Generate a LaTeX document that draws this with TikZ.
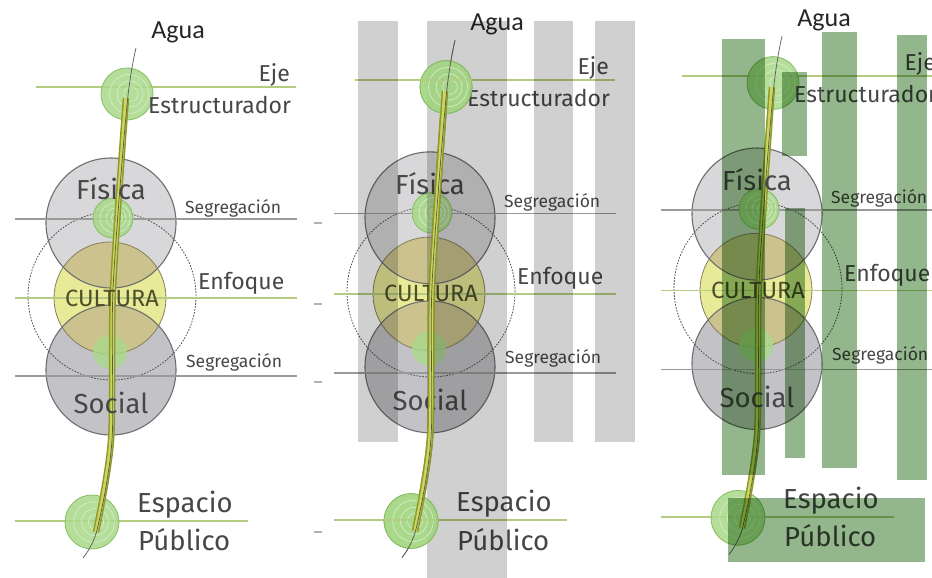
\documentclass[tikz,border=0pt]{standalone}
\usepackage{fontspec}
\setmainfont{Fira Sans}
\newfontfamily\aguafont{Carlito}
\definecolor{txt}{HTML}{474747}
\definecolor{fis}{HTML}{D8D8DA}
\definecolor{soc}{HTML}{C3C3C7}
\definecolor{cul}{HTML}{E8EA98}
\definecolor{tanov}{HTML}{CCC28E}
\definecolor{rimc}{HTML}{6E6E6E}
\definecolor{lgreen}{HTML}{A9D98A}
\definecolor{gedge}{HTML}{86BE60}
\definecolor{gline}{HTML}{B3CC80}
\definecolor{grayline}{HTML}{9A9A9A}
\definecolor{bandout}{HTML}{8C9A2C}
\definecolor{bandin}{HTML}{CDD65A}
\definecolor{graybar}{HTML}{D0D0D0}
\definecolor{greenbar}{HTML}{94B68C}
\definecolor{culttxt}{HTML}{4E4E2A}
\tikzset{
  lbl/.style={text=txt, inner sep=0pt, font=\fontsize{23}{23}\selectfont},
  bigl/.style={text=txt, inner sep=0pt, font=\fontsize{27.5}{27.5}\selectfont},
  smalll/.style={text=txt, inner sep=0pt, font=\fontsize{17.5}{17.5}\selectfont},
  aguast/.style={text=black!85, inner sep=0pt, font=\aguafont\fontsize{26}{26}\selectfont},
  cultst/.style={text=culttxt, inner sep=0pt, font=\fontsize{23.5}{23.5}\selectfont},
  greenh/.style={gline, line width=1.4pt},
  grayh/.style={grayline, line width=1.1pt},
  rim/.style={rimc, line width=1.1pt},
  dashc/.style={black!70, line width=.8pt, dash pattern=on 1.6pt off 1.4pt},
  ringst/.style={white!55!lgreen, line width=.6pt},
}
\newcommand\greenring[3]{%
  \fill[lgreen, opacity=.85] (#1,#2) circle[radius=#3pt];
  \draw[ringst] (#1+2,#2) circle[radius=#3*0.75pt];
  \draw[ringst] (#1+3,#2) circle[radius=#3*0.5pt];
  \draw[ringst] (#1+4,#2) circle[radius=#3*0.28pt];
  \draw[gedge, line width=.8pt] (#1,#2) circle[radius=#3pt];
}
\newcommand\waterline{%
  \draw[bandout, line width=6.5pt] plot[smooth, tension=.5] coordinates {(126,98) (113,290) (111,440) (96,532)};
  \draw[bandin, line width=3.5pt] plot[smooth, tension=.5] coordinates {(126,98) (113,290) (111,440) (96,532)};
  \draw[black!65, line width=.7pt] plot[smooth, tension=.5] coordinates {(136,48) (127,105) (113,290) (112,440) (97,530) (83,558)};
}
\newcommand\drawpanel[1]{%
  % gray and yellow circles
  \fill[fis] (111,223) circle[radius=65pt];
  \fill[soc] (111,370) circle[radius=65pt];
  \fill[cul] (110,298) circle[radius=56pt];
  \begin{scope}
    \clip (110,298) circle[radius=56pt];
    \fill[tanov] (111,223) circle[radius=65pt];
    \fill[tanov] (111,370) circle[radius=65pt];
  \end{scope}
  \draw[black!35!tanov, line width=.8pt] (110,298) circle[radius=56pt];
  \draw[rim] (111,223) circle[radius=65pt];
  \draw[rim] (111,370) circle[radius=65pt];
  \draw[dashc] (112,296) circle[radius=84pt];
  % horizontal lines
  \draw[greenh] (36,87) -- (296,87);
  \draw[grayh] (15,219) -- (297,219);
  \draw[greenh] (15,298) -- (297,298);
  \draw[grayh] (15,376) -- (297,376);
  \draw[greenh] (15,521) -- (248,521);
  % green circles
  \greenring{127}{94}{26}
  \greenring{113}{218}{20}
  \fill[lgreen, opacity=.8] (110,352) circle[radius=17pt];
  \greenring{92}{522}{27}
  % water
  \waterline
  % texts
  \node[aguast] (agua#1) at (178,32) {Agua};
  \node[lbl, anchor=east] (eje#1) at (290,75) {Eje};
  \node[lbl, anchor=west] (estr#1) at (148,105) {Estructurador};
  \node[bigl] (fis#1) at (111,189) {Física};
  \node[smalll, anchor=west] (segA#1) at (185,208) {Segregación};
  \node[lbl, anchor=west] (enf#1) at (198,283) {Enfoque};
  \node[cultst] (cult#1) at (112,298) {CULTURA};
  \node[smalll, anchor=west] (segB#1) at (186,362) {Segregación};
  \node[bigl] (soc#1) at (111,403) {Social};
  \node[bigl, anchor=west] (esp#1) at (137,505) {Espacio};
  \node[bigl, anchor=west] (pub#1) at (138,540) {Público};
}
\begin{document}
\begin{tikzpicture}[x=1pt, y=-1pt]
  \path[use as bounding box] (0,0) rectangle (932,578);
  \clip (0,0) rectangle (932,578);
  \fill[white] (0,0) rectangle (932,578);
  \begin{scope}
    \drawpanel{1}
  \end{scope}
  \begin{scope}[shift={(319pt,8.3pt)}, yscale=1.014]
    \drawpanel{2}
  \end{scope}
  \begin{scope}[shift={(646pt,12.5pt)}, yscale=1.016]
    \drawpanel{3}
  \end{scope}
  % small tick marks
  \foreach \ty in {223,304,382,532} {
    \draw[black!30, line width=1.2pt] (314,\ty) -- (322,\ty);
  }
  % bars
  \begin{scope}[blend mode=multiply]
    \fill[graybar] (358,21) rectangle (398,442);
    \fill[graybar] (427,21) rectangle (507,578);
    \fill[graybar] (534,21) rectangle (573,442);
    \fill[graybar] (595,21) rectangle (635,442);
    \fill[greenbar] (722,39) rectangle (765,475);
    \fill[greenbar] (782,72) rectangle (807,156);
    \fill[greenbar] (785,208) rectangle (805,458);
    \fill[greenbar] (822,32) rectangle (857,468);
    \fill[greenbar] (897,35) rectangle (927,480);
    \fill[greenbar] (728,498) rectangle (925,562);
  \end{scope}
  % middle panel: green rings sit above the gray bars
  \begin{scope}[shift={(319pt,8.3pt)}, yscale=1.014]
    \greenring{127}{94}{26}
    \greenring{92}{522}{27}
    \draw[greenh, opacity=.7] (101,87) -- (153,87);
    \draw[greenh, opacity=.7] (65,521) -- (119,521);
    \waterline
  \end{scope}
\end{tikzpicture}
\end{document}
